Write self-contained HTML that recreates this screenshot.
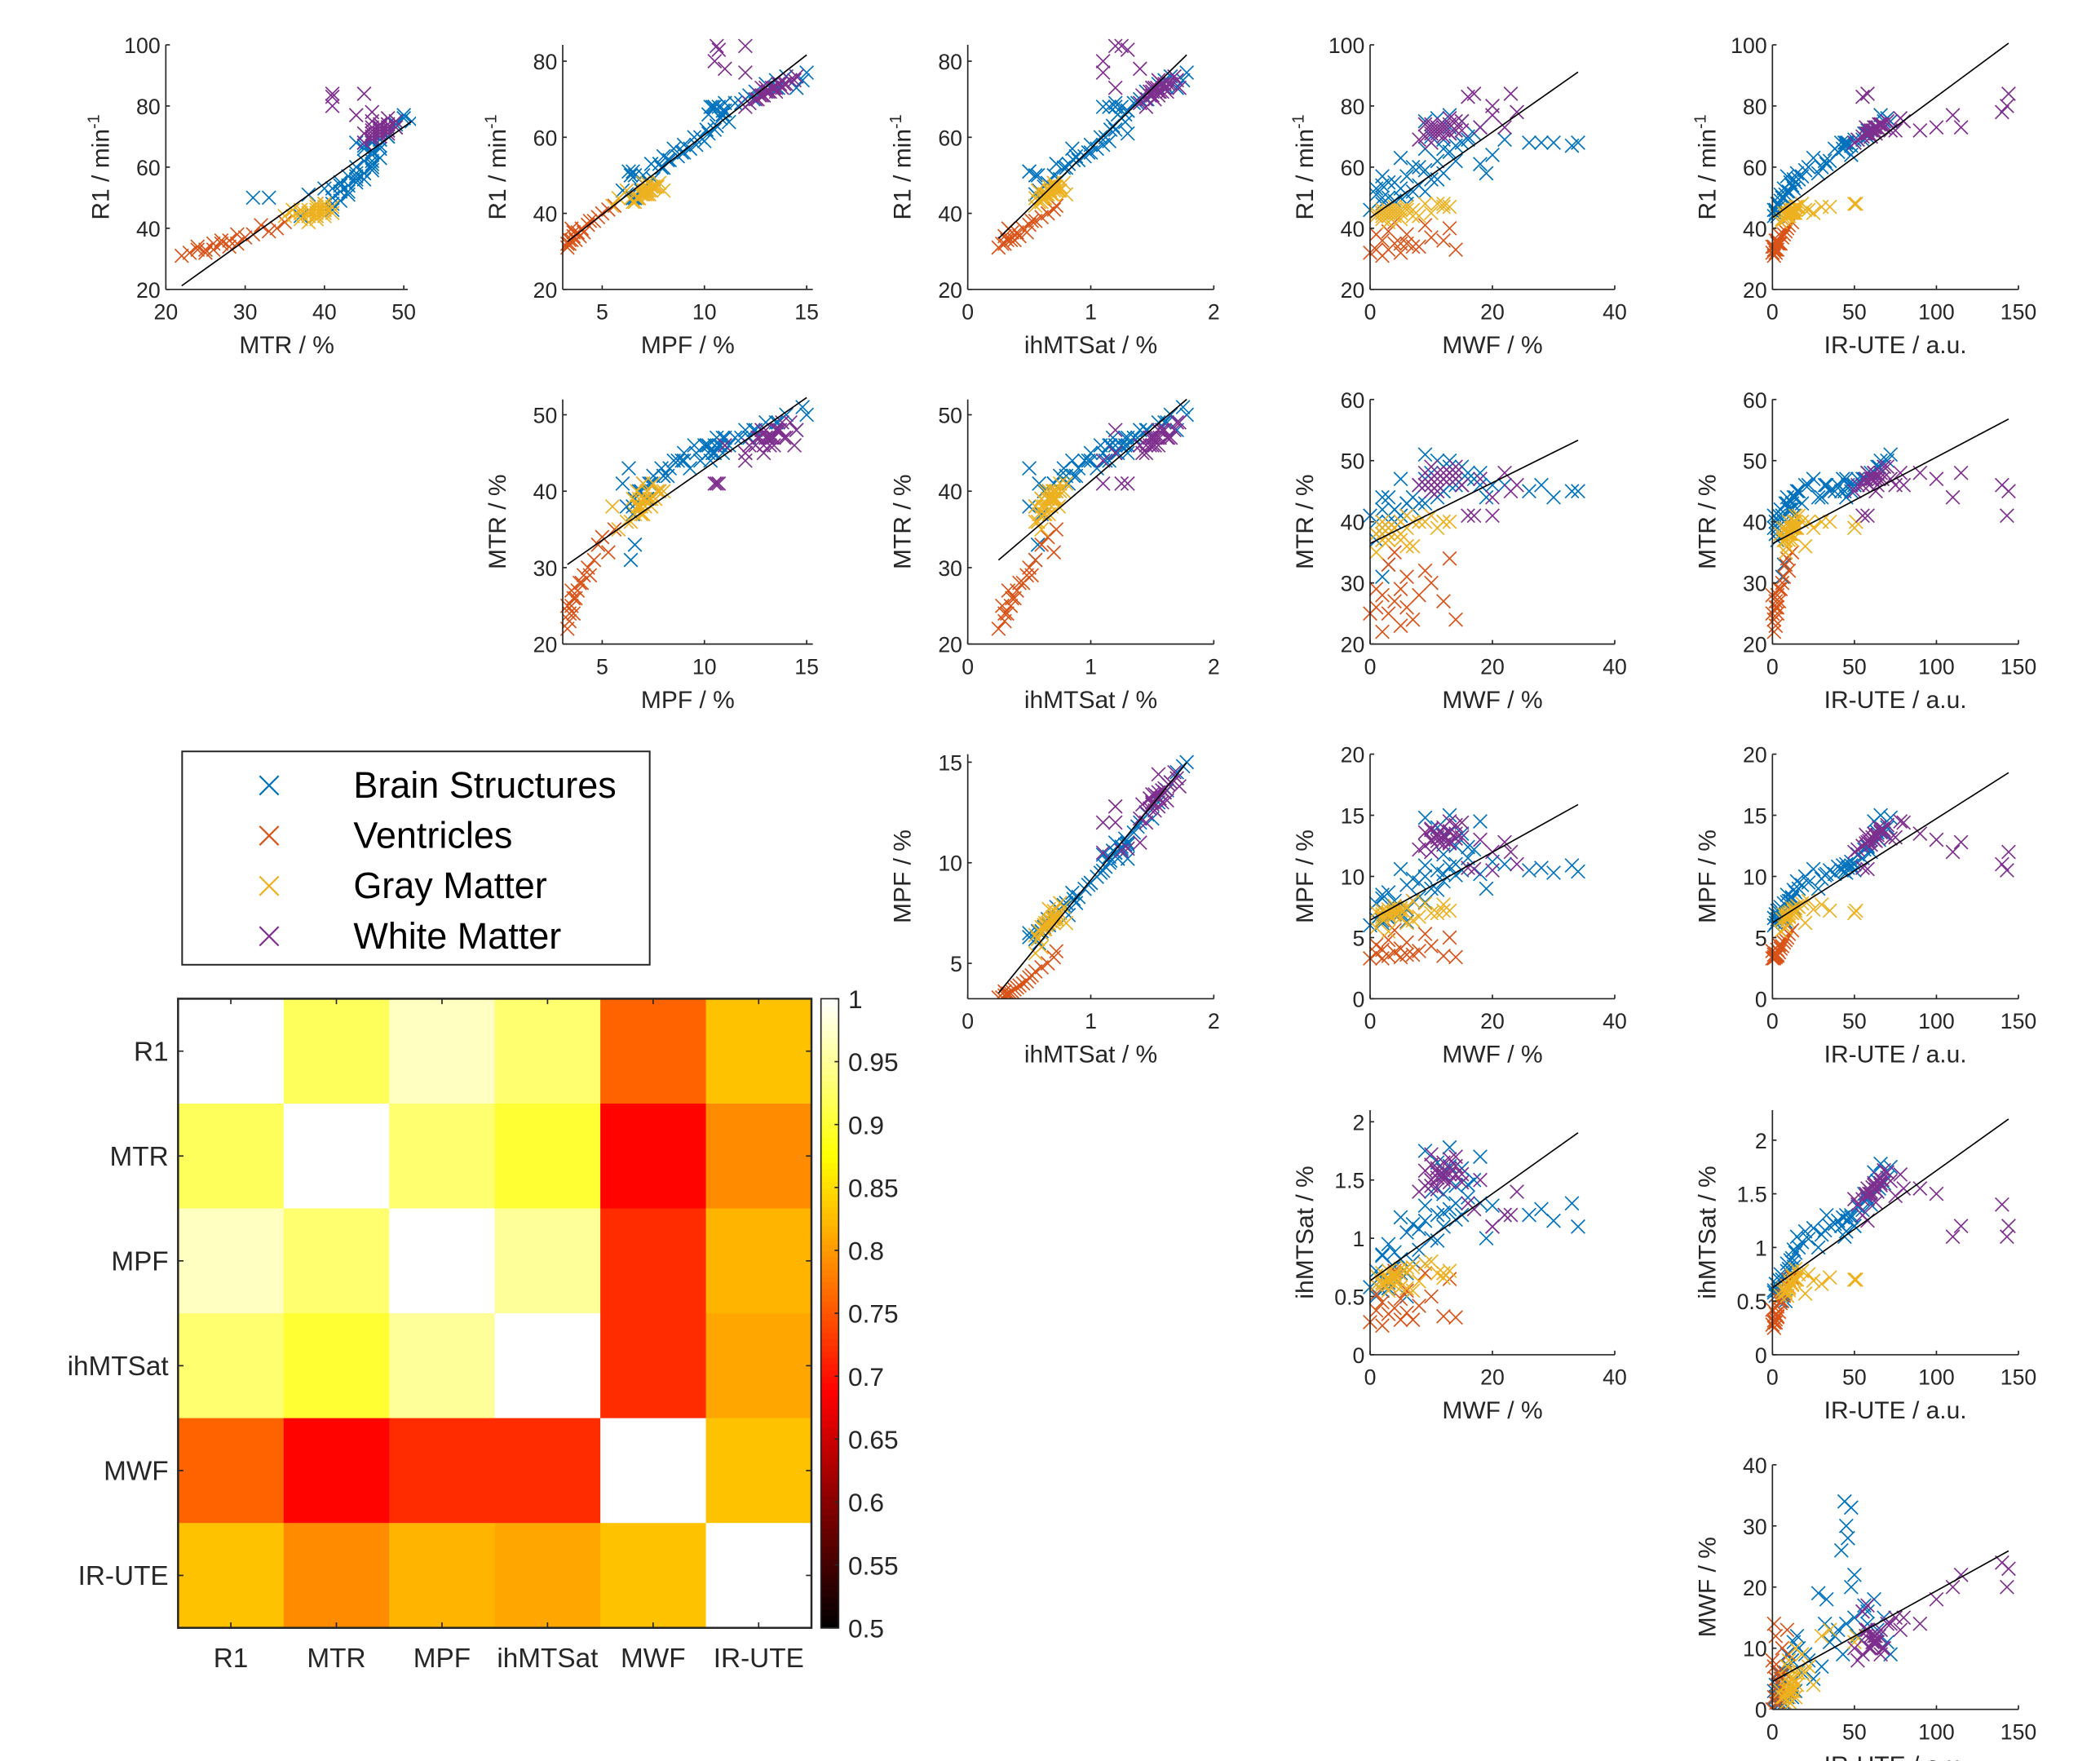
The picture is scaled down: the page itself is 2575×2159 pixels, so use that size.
<!DOCTYPE html>
<html><head><meta charset="utf-8"><style>
html,body{margin:0;padding:0;background:#fff;}
svg{display:block;font-family:"Liberation Sans",Arial,sans-serif;}
</style></head><body>
<svg id="fig" width="2575" height="2159" viewBox="0 0 1545 1296" preserveAspectRatio="none" xmlns="http://www.w3.org/2000/svg"></svg>
<script>
// Variables: R1, MTR, MPF, ihMTSat, MWF, IR-UTE
const varNames = ["R1","MTR","MPF","ihMTSat","MWF","IR-UTE"];
const brainStructures = [
[45,38,6.2,0.55,2,2],[44,37,6.5,0.6,1,3],[47,40,6.8,0.62,3,4],[50,41,7.0,0.7,5,6],[51,43,6.3,0.5,6,8],
[49,42,7.5,0.75,4,5],[52,42,8.0,0.8,7,10],[54,43,8.3,0.9,8,12],[55,44,8.7,0.95,3,14],[56,45,9.0,1.0,10,16],
[57,43,9.3,1.05,6,18],[58,45,9.6,1.1,12,15],[59,46,10.0,1.15,9,20],[57,44,8.5,0.85,2,9],[53,40,7.8,0.72,1,7],
[48,39,7.2,0.65,2,3],[46,41,6.0,0.58,0,1],[55,42,8.0,0.88,4,11],[62,45,10.5,1.2,11,35],[65,46,10.8,1.25,13,40],
[67,47,11.0,1.3,14,45],[68,46,10.5,1.2,15,50],[66,45,10.2,1.22,12,38],[69,47,11.5,1.35,16,55],[70,48,12.0,1.4,10,60],
[72,48,12.5,1.45,14,58],[74,49,13.0,1.55,12,65],[75,49,13.5,1.6,15,68],[76,50,14.0,1.65,11,70],[73,48,14.5,1.7,18,62],
[77,50,15.0,1.78,13,66],[75,51,14.8,1.75,9,72],[71,47,12.2,1.5,17,56],[64,46,11.2,1.28,20,48],[60,44,9.8,1.12,7,30],
[63,47,10.6,1.18,5,25],[68,45,10.5,1.2,26,42],[68,46,10.7,1.25,28,46],[68,44,10.3,1.15,30,45],[67,45,10.9,1.3,33,48],
[68,45,10.4,1.1,34,44],[69,46,11.0,1.2,22,50],[51,38,6.5,0.5,1,5],[44,39,6.6,0.6,3,1],[58,44,9.0,1.0,19,28],
[61,46,10.2,1.3,18,33],[50,31,6.4,0.55,2,6],[50,33,6.6,0.57,3,7],[53,41,7.4,0.82,5,13],[60,46,9.5,1.08,8,22],
[46,40,6.9,0.66,4,2],[48,41,7.3,0.7,6,4],[52,43,7.9,0.78,9,9],[56,44,8.9,0.98,11,13],[62,46,10.1,1.16,14,32],
[66,47,10.9,1.28,9,43],[70,48,12.4,1.46,16,58],[73,49,13.6,1.62,13,64],[69,47,11.8,1.38,12,52],[54,42,8.2,0.86,2,12]
];
const ventricles = [
[31,22,3.3,0.25,2,1],[32,23,3.4,0.3,5,2],[33,25,3.5,0.35,3,3],[34,24,3.6,0.3,7,1],[33,26,3.7,0.38,1,2],
[35,27,3.8,0.4,4,4],[34,28,3.9,0.42,8,0],[36,28,4.0,0.45,2,3],[35,29,4.1,0.48,5,5],[37,30,4.3,0.5,10,6],
[36,27,3.5,0.33,12,2],[38,31,4.6,0.55,6,7],[39,33,4.8,0.6,3,8],[40,34,5.0,0.65,13,9],[41,32,5.3,0.7,9,10],
[42,35,5.6,0.72,4,12],[32,25,3.3,0.28,0,0],[33,24,3.4,0.32,14,1],[35,26,3.6,0.36,6,3],[38,29,4.4,0.52,1,4]
];
const grayMatter = [
[44,38,6.8,0.6,3,10],[45,39,7.0,0.65,4,12],[46,40,7.2,0.7,2,14],[43,37,6.6,0.58,5,8],[47,41,7.5,0.75,6,16],
[45,38,7.1,0.68,1,11],[44,36,6.4,0.55,7,9],[46,39,7.3,0.72,3,13],[48,40,7.8,0.78,9,18],[45,37,6.9,0.62,2,7],
[47,39,7.6,0.7,4,15],[44,40,6.7,0.63,8,10],[46,38,7.4,0.74,5,12],[43,39,6.5,0.6,2,6],[45,41,7.0,0.8,10,14],
[47,40,7.7,0.66,12,30],[47,40,7.2,0.72,13,35],[48,39,7.0,0.7,11,50],[48,40,7.2,0.7,12,51],[46,36,6.2,0.57,6,20],
[42,38,5.5,0.55,3,5],[44,35,5.8,0.6,1,8],[46,40,8.0,0.75,7,22],[45,39,7.3,0.69,4,25],
[45,38,6.9,0.64,3,9],[46,39,7.1,0.67,4,11],[44,38,6.7,0.62,2,10],[45,40,7.2,0.69,5,13],[46,37,7.0,0.66,3,12],
[47,39,7.4,0.71,6,14],[44,39,6.8,0.6,4,8],[45,37,7.0,0.63,3,10]
];
const whiteMatter = [
[70,46,12.5,1.45,9,55],[72,47,13.0,1.5,10,60],[73,48,13.5,1.6,11,62],[74,47,14.0,1.65,12,65],[71,48,12.8,1.55,13,58],
[75,49,14.2,1.7,14,70],[69,46,12.2,1.4,8,52],[72,46,13.2,1.48,15,75],[73,49,13.8,1.72,10,68],[70,47,12.6,1.52,12,60],
[76,48,14.5,1.68,13,78],[71,45,12.9,1.42,11,63],[74,48,13.6,1.58,9,66],[72,47,13.1,1.62,14,72],[68,45,12.0,1.45,10,50],
[75,46,14.4,1.55,15,80],[73,47,13.4,1.5,12,57],[83,41,10.7,1.3,16,55],[84,41,10.6,1.25,17,58],[77,44,12.0,1.1,20,110],
[73,48,12.8,1.2,22,115],[78,46,11.0,1.4,24,140],[80,41,10.5,1.1,20,143],[84,45,12.0,1.2,23,144],[73,47,13.0,1.5,18,100],
[72,48,13.5,1.55,14,90],
[72,47,13.2,1.56,11,61],[73,47,13.3,1.54,12,63],[71,46,12.9,1.5,10,59],[74,48,13.7,1.6,13,66],[72,48,13.0,1.58,12,62],
[73,46,13.4,1.52,11,64],[71,47,12.7,1.48,13,57],[74,47,13.9,1.63,10,67]
];
const corrLabels = ["R1","MTR","MPF","ihMTSat","MWF","IR-UTE"];
const corrMatrix = [
[1,0.92,0.97,0.93,0.76,0.83],
[0.92,1,0.93,0.90,0.69,0.79],
[0.97,0.93,1,0.95,0.72,0.82],
[0.93,0.90,0.95,1,0.72,0.81],
[0.76,0.69,0.72,0.72,1,0.83],
[0.83,0.79,0.82,0.81,0.83,1]
];
const colorbarTicks = [0.5,0.55,0.6,0.65,0.7,0.75,0.8,0.85,0.9,0.95,1];

const NS="http://www.w3.org/2000/svg";
const svg=document.getElementById('fig');
function mk(tag,attrs,parent){const e=document.createElementNS(NS,tag);for(const k in attrs)e.setAttribute(k,attrs[k]);(parent||svg).appendChild(e);return e;}
const groups=[{d:brainStructures,c:"#0072BD",n:"brain-structures"},{d:ventricles,c:"#D95319",n:"ventricles"},{d:grayMatter,c:"#EDB120",n:"gray-matter"},{d:whiteMatter,c:"#7E2F8E",n:"white-matter"}];

const colPx=[[122,300],[414,598],[712,893],[1008,1188],[1304,1485]];
const rowPx=[[213,33],[474,294],[735,555],[997,817],[1258,1078]];
const xLabel=["MTR / %","MPF / %","ihMTSat / %","MWF / %","IR-UTE / a.u."];
const xDom=[[20,50.5],[3.07,15.3],[0,2],[0,40],[0,150]];
const xTicks=[[20,30,40,50],[5,10,15],[0,1,2],[0,20,40],[0,50,100,150]];
const panels=[
[0,0,1,0,[20,100],[20,40,60,80,100]],
[1,0,2,0,[20,84.3],[20,40,60,80]],
[2,0,3,0,[20,84.3],[20,40,60,80]],
[3,0,4,0,[20,100],[20,40,60,80,100]],
[4,0,5,0,[20,100],[20,40,60,80,100]],
[1,1,2,1,[20,52],[20,30,40,50]],
[2,1,3,1,[20,52],[20,30,40,50]],
[3,1,4,1,[20,60],[20,30,40,50,60]],
[4,1,5,1,[20,60],[20,30,40,50,60]],
[2,2,3,2,[3.24,15.4],[5,10,15]],
[3,2,4,2,[0,20],[0,5,10,15,20]],
[4,2,5,2,[0,20],[0,5,10,15,20]],
[3,3,4,3,[0,2.1],[0,0.5,1,1.5,2]],
[4,3,5,3,[0,2.28],[0,0.5,1,1.5,2]],
[4,4,5,4,[0,40],[0,10,20,30,40]]
];
const yLabelTxt=["R1 / min","MTR / %","MPF / %","ihMTSat / %","MWF / %"];

panels.forEach((p,pi)=>{
  const [ci,ri,xv,yv,yd,yt]=p;
  const [x0,x1]=colPx[ci], [y0,y1]=rowPx[ri], xd=xDom[ci];
  const sx=v=>x0+(v-xd[0])/(xd[1]-xd[0])*(x1-x0);
  const sy=v=>y0-(v-yd[0])/(yd[1]-yd[0])*(y0-y1);
  const g=mk('g',{});
  
  
  const cid='clip'+pi;
  const cp=mk('clipPath',{id:cid},g);mk('rect',{x:x0-6,y:y1-6,width:x1-x0+12,height:y0-y1+6},cp);
  const pg=mk('g',{'clip-path':'url(#'+cid+')'},g);
  const all=[];
  groups.forEach(gr=>{
    gr.d.forEach(r=>{
      const X=sx(r[xv]),Y=sy(r[yv]);all.push([r[xv],r[yv]]);
      const m=mk('path',{d:`M${X-5} ${Y-5}L${X+5} ${Y+5}M${X-5} ${Y+5}L${X+5} ${Y-5}`,stroke:gr.c,'stroke-width':1,fill:'none'},pg);
      
      
    });
  });
  let n=all.length,mx=0,my=0;all.forEach(a=>{mx+=a[0];my+=a[1];});mx/=n;my/=n;
  let sxy=0,sxx=0;all.forEach(a=>{sxy+=(a[0]-mx)*(a[1]-my);sxx+=(a[0]-mx)**2;});
  const b=sxy/sxx,a0=my-b*mx;
  let mnx=Math.min(...all.map(a=>a[0])),mxx=Math.max(...all.map(a=>a[0]));
  const ln=mk('line',{x1:sx(mnx),y1:sy(a0+b*mnx),x2:sx(mxx),y2:sy(a0+b*mxx),stroke:'#000','stroke-width':1},pg);
  
  
  mk('line',{x1:x0,y1:y1,x2:x0,y2:y0,stroke:'#262626','stroke-width':1},g);
  mk('line',{x1:x0,y1:y0,x2:x1,y2:y0,stroke:'#262626','stroke-width':1},g);
  xTicks[ci].forEach(t=>{const X=sx(t);mk('line',{x1:X,y1:y0,x2:X,y2:y0-3,stroke:'#262626'},g);
    const tx=mk('text',{x:X,y:y0+22,'text-anchor':'middle','font-size':16,fill:'#262626'},g);tx.textContent=t;});
  yt.forEach(t=>{const Y=sy(t);mk('line',{x1:x0,y1:Y,x2:x0+3,y2:Y,stroke:'#262626'},g);
    const tx=mk('text',{x:x0-4,y:Y+6,'text-anchor':'end','font-size':16,fill:'#262626'},g);tx.textContent=t;});
  const xl=mk('text',{x:(x0+x1)/2,y:y0+47,'text-anchor':'middle','font-size':18,fill:'#262626'},g);xl.textContent=xLabel[ci];
  
  
  const cy=(y0+y1)/2, lx=x0-42;
  const yl=mk('text',{x:lx,y:cy,'text-anchor':'middle','font-size':18,fill:'#262626',transform:`rotate(-90 ${lx} ${cy})`},g);
  yl.textContent=yLabelTxt[ri];
  if(ri===0){const s=mk('tspan',{dy:-7,'font-size':12},yl);s.textContent='-1';}
  
  
});

const lg=mk('g',{});


mk('rect',{x:134,y:553,width:344,height:157,fill:'#fff',stroke:'#262626','stroke-width':1.2},lg);
const legText=["Brain Structures","Ventricles","Gray Matter","White Matter"];
groups.forEach((gr,i)=>{const Y=578+i*37,X=198;
  const e=mk('g',{},lg);
  
  
  mk('path',{d:`M${X-7} ${Y-7}L${X+7} ${Y+7}M${X-7} ${Y+7}L${X+7} ${Y-7}`,stroke:gr.c,'stroke-width':1.3,fill:'none'},e);
  const t=mk('text',{x:260,y:Y+9,'font-size':27,fill:'#000'},e);t.textContent=legText[i];});

function hot(v){let t=(v-0.5)/0.5;t=Math.max(0,Math.min(1,t));
  const r=Math.min(1,t/0.375),g=Math.max(0,Math.min(1,(t-0.375)/0.375)),b=Math.max(0,Math.min(1,(t-0.75)/0.25));
  return `rgb(${Math.round(r*255)},${Math.round(g*255)},${Math.round(b*255)})`;}
const hx0=131,hy0=735,hx1=597,hy1=1198;
const hg=mk('g',{});


const cw=(hx1-hx0)/corrLabels.length,chh=(hy1-hy0)/corrLabels.length;
corrMatrix.forEach((row,i)=>row.forEach((v,j)=>{
  const c=mk('rect',{x:hx0+j*cw,y:hy0+i*chh,width:cw+0.5,height:chh+0.5,fill:hot(v)},hg);
  
  
}));
mk('rect',{x:hx0,y:hy0,width:hx1-hx0,height:hy1-hy0,fill:'none',stroke:'#262626','stroke-width':1.5},hg);
corrLabels.forEach((l,k)=>{
  const X=hx0+(k+0.5)*cw,Y=hy0+(k+0.5)*chh;
  mk('line',{x1:X,y1:hy1,x2:X,y2:hy1-4,stroke:'#262626'},hg);mk('line',{x1:X,y1:hy0,x2:X,y2:hy0+4,stroke:'#262626'},hg);
  mk('line',{x1:hx0,y1:Y,x2:hx0+4,y2:Y,stroke:'#262626'},hg);mk('line',{x1:hx1,y1:Y,x2:hx1-4,y2:Y,stroke:'#262626'},hg);
  const t1=mk('text',{x:X,y:hy1+29,'text-anchor':'middle','font-size':20,fill:'#262626'},hg);t1.textContent=l;
  const t2=mk('text',{x:hx0-7,y:Y+7,'text-anchor':'end','font-size':20,fill:'#262626'},hg);t2.textContent=l;
});
const cb=mk('g',{});


const cbx=604,cbw=13,steps=100;
for(let s=0;s<steps;s++){const v=0.5+0.5*(s+0.5)/steps;const y=hy1-(s+1)*(hy1-hy0)/steps;
  mk('rect',{x:cbx,y:y,width:cbw,height:(hy1-hy0)/steps+0.6,fill:hot(v)},cb);}
mk('rect',{x:cbx,y:hy0,width:cbw,height:hy1-hy0,fill:'none',stroke:'#262626','stroke-width':1},cb);
colorbarTicks.forEach(t=>{const Y=hy1-(t-0.5)/0.5*(hy1-hy0);
  mk('line',{x1:cbx+cbw,y1:Y,x2:cbx+cbw-3,y2:Y,stroke:'#262626'},cb);
  const tx=mk('text',{x:cbx+cbw+7,y:Y+7,'font-size':19,fill:'#262626'},cb);tx.textContent=t;});
</script>
</body></html>
